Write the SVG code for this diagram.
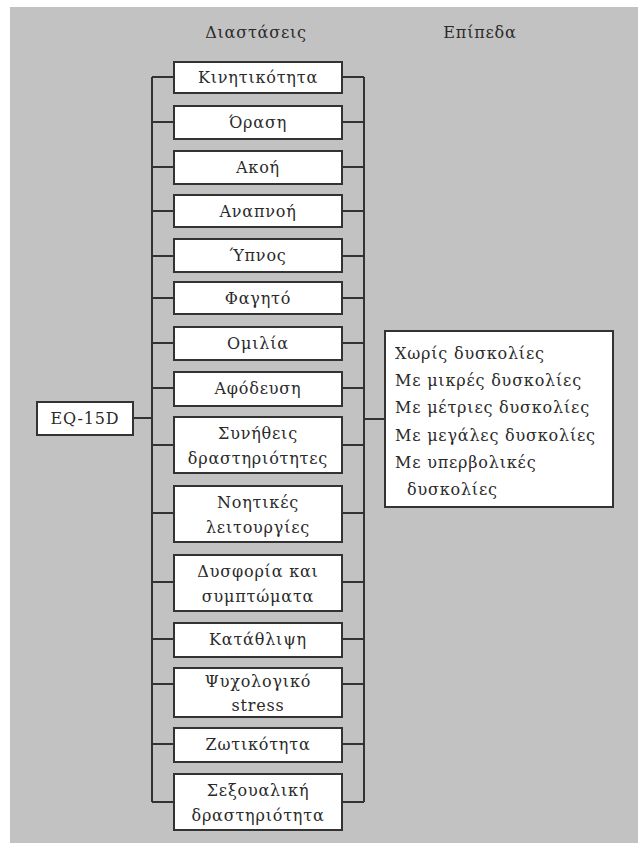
<svg xmlns="http://www.w3.org/2000/svg" width="638" height="843" viewBox="0 0 638 843">
<style>
.bg{fill:#c2c2c2}
.box{fill:#ffffff;stroke:#333333;stroke-width:2}
.ln{stroke:#333333;stroke-width:2;fill:none}
text{font-family:"DejaVu Serif","Liberation Serif",serif;font-size:16px;fill:#2a2a2a;letter-spacing:0.8px}
.c{text-anchor:middle}
</style>
<rect x="0" y="0" width="638" height="843" fill="#ffffff"/>
<rect class="bg" x="10" y="7" width="628" height="836"/>
<text class="c" x="256" y="38">Διαστάσεις</text>
<text class="c" x="480" y="38">Επίπεδα</text>
<g id="connectors">
<path class="ln" d="M152 77V802M364 77V802M133 418H152M364 419H385"/>
<path class="ln" d="M152 77H174M152 122H174M152 167H174M152 211H174M152 256H174M152 298H174M152 343H174M152 388H174M152 445H174M152 513H174M152 582H174M152 639H174M152 684H174M152 744H174M152 802H174"/>
<path class="ln" d="M342 77H364M342 122H364M342 167H364M342 211H364M342 256H364M342 298H364M342 343H364M342 388H364M342 445H364M342 513H364M342 582H364M342 639H364M342 684H364M342 744H364M342 802H364"/>
</g>
<g id="eq5d"><rect class="box" x="37" y="402" width="96" height="33"/><text class="c" x="85" y="424">EQ-15D</text></g>
<g id="d1"><rect class="box" x="174" y="62" width="168" height="31"/><text class="c" x="258" y="83">Κινητικότητα</text></g>
<g id="d2"><rect class="box" x="174" y="106" width="168" height="33"/><text class="c" x="258" y="128">Όραση</text></g>
<g id="d3"><rect class="box" x="174" y="151" width="168" height="33"/><text class="c" x="258" y="173">Ακοή</text></g>
<g id="d4"><rect class="box" x="174" y="195" width="168" height="32"/><text class="c" x="258" y="217">Αναπνοή</text></g>
<g id="d5"><rect class="box" x="174" y="239" width="168" height="33"/><text class="c" x="258" y="261">Ύπνος</text></g>
<g id="d6"><rect class="box" x="174" y="282" width="168" height="32"/><text class="c" x="258" y="304">Φαγητό</text></g>
<g id="d7"><rect class="box" x="174" y="327" width="168" height="33"/><text class="c" x="258" y="349">Ομιλία</text></g>
<g id="d8"><rect class="box" x="174" y="372" width="168" height="34"/><text class="c" x="258" y="394">Αφόδευση</text></g>
<g id="d9"><rect class="box" x="174" y="417" width="168" height="56"/><text class="c" x="258" y="439">Συνήθεις</text><text class="c" x="258" y="464">δραστηριότητες</text></g>
<g id="d10"><rect class="box" x="174" y="486" width="168" height="56"/><text class="c" x="258" y="508">Νοητικές</text><text class="c" x="258" y="533">λειτουργίες</text></g>
<g id="d11"><rect class="box" x="174" y="555" width="168" height="56"/><text class="c" x="258" y="577">Δυσφορία και</text><text class="c" x="258" y="602">συμπτώματα</text></g>
<g id="d12"><rect class="box" x="174" y="623" width="168" height="34"/><text class="c" x="258" y="645">Κατάθλιψη</text></g>
<g id="d13"><rect class="box" x="174" y="668" width="168" height="49"/><text class="c" x="258" y="687">Ψυχολογικό</text><text class="c" x="258" y="711">stress</text></g>
<g id="d14"><rect class="box" x="174" y="728" width="168" height="34"/><text class="c" x="258" y="750">Ζωτικότητα</text></g>
<g id="d15"><rect class="box" x="174" y="774" width="168" height="56"/><text class="c" x="258" y="796">Σεξουαλική</text><text class="c" x="258" y="821">δραστηριότητα</text></g>
<g id="levels"><rect class="box" x="385" y="331" width="228" height="176"/>
<text x="395" y="359">Χωρίς δυσκολίες</text>
<text x="395" y="386">Με μικρές δυσκολίες</text>
<text x="395" y="413">Με μέτριες δυσκολίες</text>
<text x="395" y="441">Με μεγάλες δυσκολίες</text>
<text x="395" y="468">Με υπερβολικές</text>
<text x="407" y="495">δυσκολίες</text>
</g>
</svg>
